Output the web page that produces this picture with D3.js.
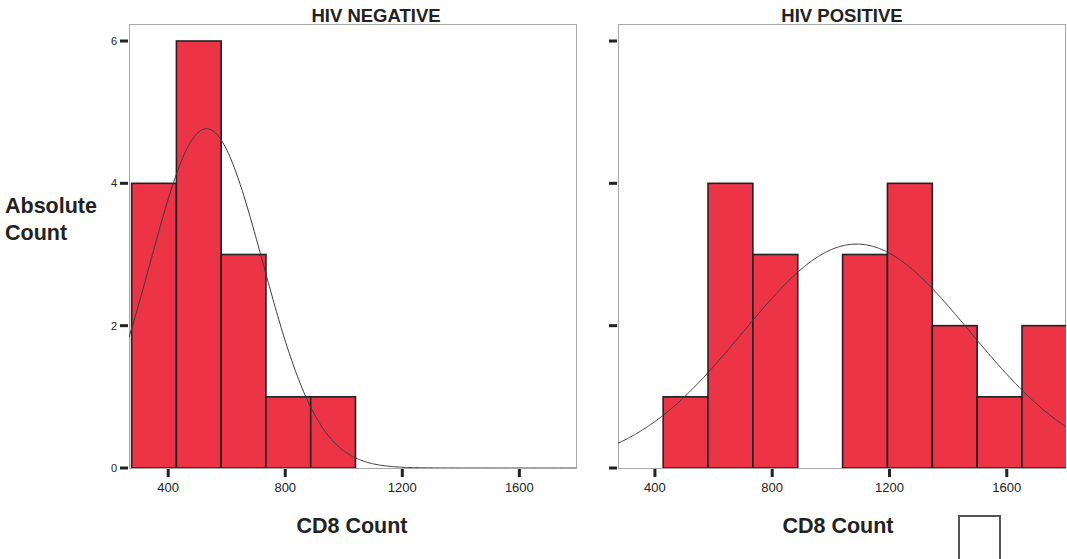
<!DOCTYPE html>
<html>
<head>
<meta charset="utf-8">
<script src="https://cdn.jsdelivr.net/npm/d3@7.9.0/dist/d3.min.js"></script>
<style>
  body { margin: 0; background: #fff; }
  svg { display: block; font-family: "Liberation Sans", Arial, sans-serif; }
</style>
</head>
<body>
<svg id="chart" width="1067" height="559"></svg>
<script>
// ── Data ───────────────────────────────────────────────────────────────────
const binEdges = [275, 428, 581, 734, 887, 1040, 1193, 1346, 1499, 1652, 1805];
const negCounts = [4, 6, 3, 1, 1, 0, 0, 0, 0, 0];
const posCounts = [0, 1, 4, 3, 0, 3, 4, 2, 1, 2];
const panelTitles = ['HIV NEGATIVE', 'HIV POSITIVE'];
const xTicks = [400, 800, 1200, 1600];
const yTicks = [0, 2, 4, 6];
// fitted normal curves: mean, sd
const negFit = { mean: 531, sd: 192 };
const posFit = { mean: 1088, sd: 388 };

const svg = d3.select('#chart');
const red = '#ec3446';
const ink = '#222';

const y = d3.scaleLinear().domain([0, 6]).range([468, 41]);
const frameTop = 24, frameBottom = 468;

const panels = [
  { title: panelTitles[0], counts: negCounts, fit: negFit, x0: 129, x1: 577,
    domain: [266, 1797], titleX: 376, labelX: 352, yLabels: true },
  { title: panelTitles[1], counts: posCounts, fit: posFit, x0: 618, x1: 1066,
    domain: [274, 1802], titleX: 842, labelX: 838, yLabels: false },
];

panels.forEach((p, pi) => {
  const x = d3.scaleLinear().domain(p.domain).range([p.x0, p.x1]);
  const g = svg.append('g');

  const clipId = 'clip' + pi;
  svg.append('clipPath').attr('id', clipId)
    .append('rect').attr('x', p.x0).attr('y', frameTop)
    .attr('width', p.x1 - p.x0).attr('height', frameBottom - frameTop);

  // frame
  g.append('rect')
    .attr('x', p.x0 + 0.5).attr('y', frameTop + 0.5)
    .attr('width', p.x1 - p.x0 - 1).attr('height', frameBottom - frameTop)
    .attr('fill', 'none').attr('stroke', '#a8a8a8').attr('stroke-width', 1);

  // bars
  const bars = p.counts.map((c, i) => ({ lo: binEdges[i], hi: binEdges[i + 1], c }))
    .filter(d => d.c > 0);
  g.append('g').attr('clip-path', `url(#${clipId})`)
    .selectAll('rect').data(bars).join('rect')
    .attr('x', d => Math.max(x(d.lo), p.x0))
    .attr('width', d => x(d.hi) - Math.max(x(d.lo), p.x0))
    .attr('y', d => y(d.c))
    .attr('height', d => y(0) - y(d.c))
    .attr('fill', red)
    .attr('stroke', ink).attr('stroke-width', 1.6);

  // normal curve scaled to counts
  const n = d3.sum(p.counts);
  const w = binEdges[1] - binEdges[0];
  const pts = d3.range(p.domain[0], p.domain[1] + 1, 4).map(v => {
    const z = (v - p.fit.mean) / p.fit.sd;
    return [v, n * w * Math.exp(-0.5 * z * z) / (p.fit.sd * Math.sqrt(2 * Math.PI))];
  });
  g.append('path')
    .attr('clip-path', `url(#${clipId})`)
    .attr('d', d3.line().x(d => x(d[0])).y(d => y(d[1]))(pts))
    .attr('fill', 'none').attr('stroke', '#3a3a3a').attr('stroke-width', 1);

  // y ticks
  g.selectAll('.yt').data(yTicks).join('line')
    .attr('x1', p.x0 - 9).attr('x2', p.x0 - 1)
    .attr('y1', d => y(d)).attr('y2', d => y(d))
    .attr('stroke', ink).attr('stroke-width', 3);
  if (p.yLabels) {
    g.selectAll('.yl').data(yTicks).join('text')
      .attr('x', p.x0 - 12).attr('y', d => y(d) + 4)
      .attr('text-anchor', 'end').attr('font-size', 11).attr('fill', ink)
      .text(d => d);
  }

  // x ticks
  g.selectAll('.xt').data(xTicks).join('line')
    .attr('x1', d => x(d)).attr('x2', d => x(d))
    .attr('y1', frameBottom + 1).attr('y2', frameBottom + 9)
    .attr('stroke', ink).attr('stroke-width', 3);
  g.selectAll('.xl').data(xTicks).join('text')
    .attr('x', d => x(d)).attr('y', 492)
    .attr('text-anchor', 'middle').attr('font-size', 13).attr('fill', ink)
    .text(d => d);

  // titles
  g.append('text').attr('x', p.titleX).attr('y', 21.5)
    .attr('text-anchor', 'middle').attr('font-size', 18.5).attr('font-weight', 'bold')
    .attr('fill', ink).text(p.title);
  g.append('text').attr('x', p.labelX).attr('y', 533)
    .attr('text-anchor', 'middle').attr('font-size', 21.5).attr('font-weight', 'bold')
    .attr('fill', ink).text('CD8 Count');
});

// y axis title
const yTitle = svg.append('text').attr('font-size', 21.5).attr('font-weight', 'bold').attr('fill', ink);
yTitle.append('tspan').attr('x', 5).attr('y', 213).text('Absolute');
yTitle.append('tspan').attr('x', 5).attr('y', 240).text('Count');

// empty box at bottom right
svg.append('rect').attr('x', 959).attr('y', 516).attr('width', 41).attr('height', 50)
  .attr('fill', 'none').attr('stroke', '#555').attr('stroke-width', 2);
</script>
</body>
</html>
